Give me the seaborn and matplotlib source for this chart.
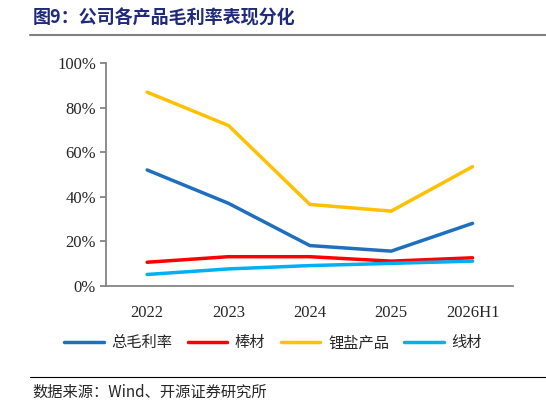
import matplotlib
matplotlib.use("Agg")
import matplotlib.pyplot as plt
import seaborn as sns
import pandas as pd

years = ["2022", "2023", "2024", "2025", "2026H1"]
total = [52, 37, 18, 15.5, 28]
bar = [10.5, 13, 13, 11, 12.5]
lithium = [87, 72, 36.5, 33.5, 53.5]
wire = [5, 7.5, 9, 10, 11]
names = ["总毛利率", "棒材", "锂盐产品", "线材"]
colors = ["#1F6FBF", "#FF0000", "#FFC000", "#00B0F0"]

sns.set_theme(style="white")
plt.rcParams['font.family'] = ['Liberation Serif', 'Noto Sans CJK SC']

df = pd.DataFrame({"year": years * 4,
                   "value": total + bar + lithium + wire,
                   "series": sum([[n] * 5 for n in names], [])})

fig = plt.figure(figsize=(5.46, 4.08), dpi=100)
ax = fig.add_axes([0.195, 0.30, 0.745, 0.545])
sns.lineplot(data=df, x="year", y="value", hue="series", palette=colors,
             linewidth=2.5, ax=ax, sort=False, legend=True)
ax.set_ylim(0, 100)
ax.set_xlim(-0.5, 4.5)
ax.set_yticks(range(0, 101, 20))
ax.set_yticklabels([f"{v}%" for v in range(0, 101, 20)], fontsize=12)
ax.tick_params(axis='x', labelsize=12, pad=8)
ax.set_xlabel("")
ax.set_ylabel("")
for s in ["top", "right"]:
    ax.spines[s].set_visible(False)
for s in ["left", "bottom"]:
    ax.spines[s].set_color("#808080")
ax.tick_params(axis='y', left=True, length=4, color="#808080")
ax.tick_params(axis='x', bottom=False)
ax.legend(loc="center", bbox_to_anchor=(0.5, 0.16), bbox_transform=fig.transFigure,
          ncol=4, frameon=False, handlelength=2.6, columnspacing=1.0, handletextpad=0.5,
          prop={'family': ['Noto Sans CJK SC'], 'size': 11})

fig.text(0.06, 0.955, "图9：公司各产品毛利率表现分化", fontsize=13, fontweight="bold",
         color="#1F2A7A", family=['Noto Sans CJK SC'], va="center")
fig.add_artist(plt.Line2D([0.055, 1.0], [0.915, 0.915], color="#808080", lw=1.5))
fig.add_artist(plt.Line2D([0.055, 1.0], [0.075, 0.075], color="black", lw=0.8))
fig.text(0.06, 0.038, "数据来源：Wind、开源证券研究所", fontsize=11,
         family=['Noto Sans CJK SC', 'Liberation Serif'], va="center")
fig.savefig("out.png", dpi=100)
